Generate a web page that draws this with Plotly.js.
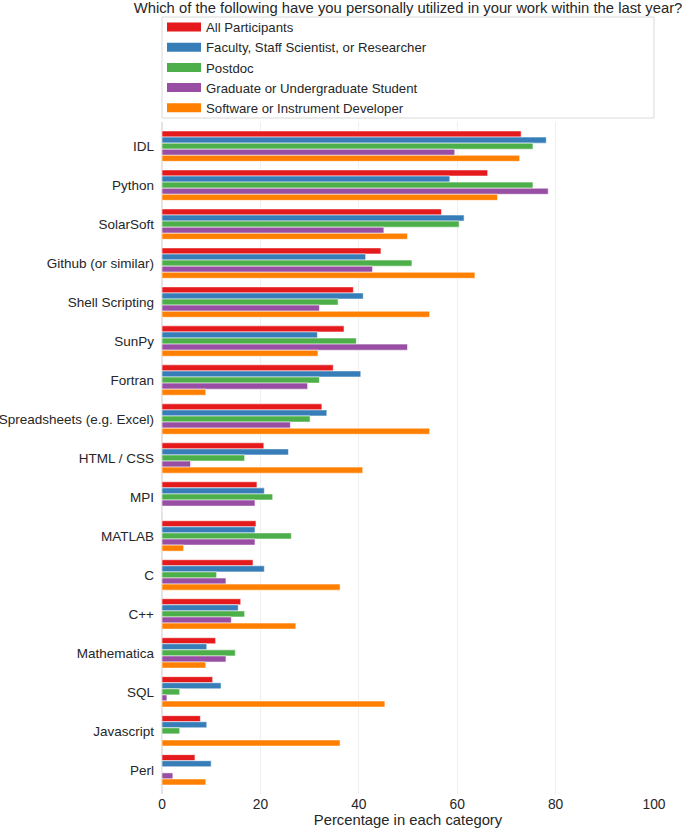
<!DOCTYPE html>
<html>
<head>
<meta charset="utf-8">
<script src="https://cdn.plot.ly/plotly-3.0.1.min.js"></script>
<style>html,body{margin:0;padding:0;background:#fff;}#chart{width:685px;height:829px;}</style>
</head>
<body>
<div id="chart"></div>
<script>
const categories = ['IDL','Python','SolarSoft','Github (or similar)','Shell Scripting','SunPy','Fortran','Spreadsheets (e.g. Excel)','HTML / CSS','MPI','MATLAB','C','C++','Mathematica','SQL','Javascript','Perl'];
const seriesNames = ['All Participants','Faculty, Staff Scientist, or Researcher','Postdoc','Graduate or Undergraduate Student','Software or Instrument Developer'];
const allParticipants = [73.0, 66.2, 56.8, 44.5, 38.9, 37.0, 34.8, 32.5, 20.7, 19.3, 19.1, 18.5, 16.0, 10.9, 10.3, 7.8, 6.7];
const faculty = [78.1, 58.5, 61.4, 41.4, 40.9, 31.6, 40.4, 33.5, 25.7, 20.8, 18.9, 20.8, 15.5, 9.1, 12.0, 9.1, 10.0];
const postdoc = [75.4, 75.4, 60.4, 50.8, 35.8, 39.5, 32.0, 30.1, 16.8, 22.5, 26.3, 11.1, 16.8, 14.9, 3.6, 3.6, 0];
const student = [59.5, 78.5, 45.1, 42.8, 32.0, 49.9, 29.6, 26.1, 5.8, 18.9, 18.9, 13.0, 14.1, 13.0, 1.0, 0, 2.2];
const developer = [72.7, 68.2, 49.9, 63.6, 54.4, 31.7, 8.9, 54.4, 40.8, 0, 4.4, 36.2, 27.2, 8.9, 45.3, 36.2, 8.9];
const colors = ['#e41a1c','#377eb8','#4daf4a','#984ea3','#ff7f00'];
const xTicks = [0, 20, 40, 60, 80, 100];

const seriesValues = [allParticipants, faculty, postdoc, student, developer];
const FONT = 'Liberation Sans, Arial, sans-serif';
const traces = [];
seriesValues.forEach((vals, i) => {
  traces.push({
    type: 'bar', orientation: 'h', name: seriesNames[i],
    x: vals, y: categories, legendgroup: 'g' + i, showlegend: false,
    marker: {color: colors[i], line: {color: 'rgba(255,255,255,0.7)', width: 0.8}},
    hoverinfo: 'x+y'
  });
});
// legend entries (drawn as wide swatches)
seriesValues.forEach((vals, i) => {
  traces.push({
    type: 'scatter', mode: 'lines', name: seriesNames[i],
    x: [null], y: [null], legendgroup: 'g' + i, showlegend: true,
    line: {color: colors[i], width: 9}, hoverinfo: 'skip'
  });
});

const layout = {
  width: 685, height: 829,
  margin: {l: 162, r: 31, t: 122, b: 35, pad: 0},
  paper_bgcolor: '#fff', plot_bgcolor: '#fff',
  font: {family: FONT, size: 13.5, color: '#262626'},
  title: {text: 'Which of the following have you personally utilized in your work within the last year?',
          font: {family: FONT, size: 14.8, color: '#262626'},
          x: 0.5, xref: 'paper', xanchor: 'center', y: 1 - 8/829, yref: 'container', yanchor: 'middle'},
  barmode: 'group', bargap: 0.22, bargroupgap: 0,
  xaxis: {range: [0, 100], tickvals: xTicks, ticktext: xTicks.map(String), showgrid: true, gridcolor: '#efefef', gridwidth: 1,
          zeroline: true, zerolinecolor: '#e4e4e4', zerolinewidth: 2, showline: false, ticks: '',
          tickfont: {family: FONT, size: 13.8, color: '#262626'}, fixedrange: true, automargin: false,
          title: {text: 'Percentage in each category', font: {family: FONT, size: 14.8, color: '#262626'}, standoff: 2}},
  yaxis: {type: 'category', categoryorder: 'array', categoryarray: categories, range: [16.62, -0.62],
          showgrid: false, zeroline: false, showline: false, ticks: '', ticklabelstandoff: 7,
          tickfont: {family: FONT, size: 13.5, color: '#262626'}, automargin: false, fixedrange: true},
  legend: {x: 0, xanchor: 'left', y: 1 + (122 - 12) / 672, yanchor: 'top', bgcolor: 'rgba(0,0,0,0)', borderwidth: 0,
           itemwidth: 34,
           font: {family: FONT, size: 13.2, color: '#262626'}, itemclick: false, itemdoubleclick: false, tracegroupgap: 0},
  shapes: [{type: 'rect', xref: 'paper', yref: 'paper', x0: 0, x1: 1, y0: (794 - 118) / 672, y1: (794 - 17) / 672,
            line: {color: '#d9d9d9', width: 1}, fillcolor: 'rgba(0,0,0,0)', layer: 'above'}],
  showlegend: true
};
Plotly.newPlot('chart', traces, layout, {displayModeBar: false, staticPlot: true});
</script>
</body>
</html>
